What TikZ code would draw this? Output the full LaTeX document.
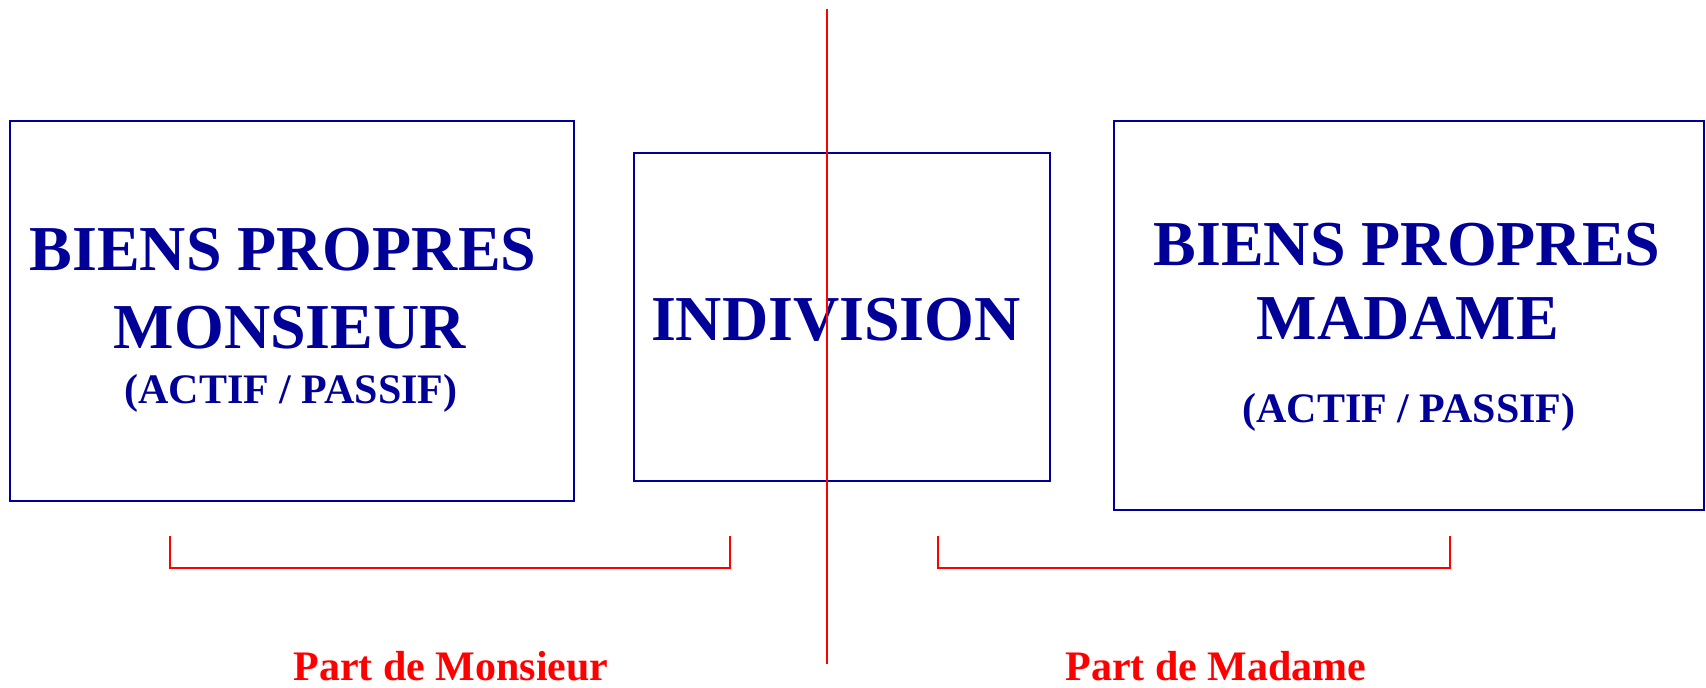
\documentclass[tikz,border=0pt]{standalone}
\usepackage{fontspec}
\setmainfont{Liberation Serif}
\usetikzlibrary{positioning}
\definecolor{navy}{RGB}{0,0,153}
\tikzset{
        % Blue frames
        frame_box/.style={rectangle, draw=navy, line width=1pt, inner sep=0pt},
        % Big titles
        title_big/.style={navy, font=\bfseries\fontsize{32}{36}\selectfont, anchor=base, inner sep=0pt},
        % Small titles
        title_small/.style={navy, font=\bfseries\fontsize{21}{25}\selectfont, anchor=base, inner sep=0pt},
        % Part labels
        part_label/.style={red, font=\bfseries\fontsize{21}{25}\selectfont, anchor=base, inner sep=0pt},
        % Red lines
        split_line/.style={red, line width=1pt}
}

\begin{document}
\begin{tikzpicture}[x=0.5pt, y=-0.5pt]
            \useasboundingbox (0,0) rectangle (1706,687);
            % frames
            \node[frame_box, minimum width=282pt, minimum height=190pt] (monsieur) at (292,311) {};
            \node[frame_box, minimum width=208pt, minimum height=164pt] (indivision) at (842,317) {};
            \node[frame_box, minimum width=295pt, minimum height=194.5pt] (madame) at (1409,315.5) {};
            % texts
            \node[title_big] (m_biens) at (283,270) {BIENS PROPRES};
            \node[title_big] (m_nom) at (290,348) {MONSIEUR};
            \node[title_small] (m_actif) at (291,403) {(ACTIF / PASSIF)};
            \node[title_big] (i_nom) at (836,340) {INDIVISION};
            \node[title_big] (f_biens) at (1407,265) {BIENS PROPRES};
            \node[title_big] (f_nom) at (1408,339) {MADAME};
            \node[title_small] (f_actif) at (1409,422) {(ACTIF / PASSIF)};
            % split line
            \coordinate (split_top) at (827,9);
            \coordinate (split_bottom) at (827,664);
            \draw[split_line] (split_top) -- (split_bottom);
            % brackets
            \coordinate (m_left) at (170,536);
            \coordinate (m_right) at (730,536);
            \coordinate (f_left) at (938,536);
            \coordinate (f_right) at (1450,536);
            \draw[split_line] (m_left) -- ++(0,32) -| (m_right);
            \draw[split_line] (f_left) -- ++(0,32) -| (f_right);
            \node[part_label] (m_part) at (451,680) {Part de Monsieur};
            \node[part_label] (f_part) at (1216,680) {Part de Madame};
        \end{tikzpicture}
\end{document}
